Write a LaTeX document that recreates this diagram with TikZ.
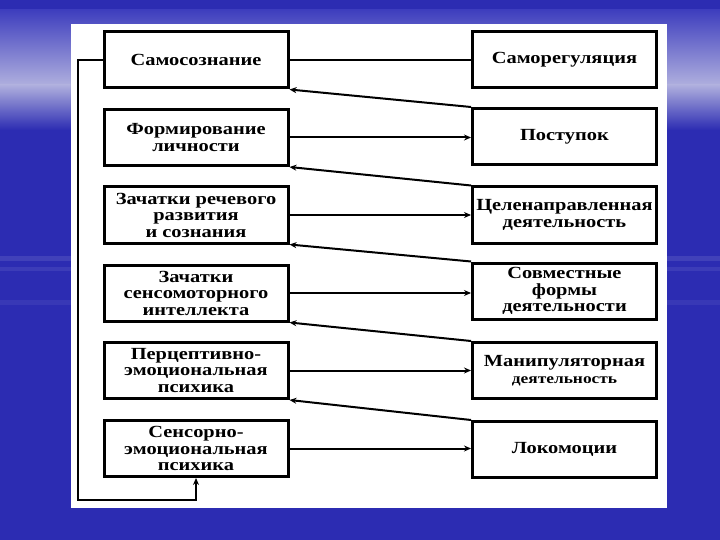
\documentclass[tikz,border=0pt]{standalone}
\usepackage{fontspec}
\setmainfont[FakeStretch=1.2]{Liberation Serif}
\usetikzlibrary{arrows.meta}
\definecolor{bgblue}{RGB}{44,44,178}
\definecolor{bglight}{RGB}{175,175,222}
\definecolor{bgmid}{RGB}{62,62,190}
\tikzset{
  x=1pt, y=-1pt,
  box/.style={draw=black, line width=3pt, fill=white, minimum width=184pt, minimum height=56pt,
    align=center, inner sep=2pt, font=\fontsize{17}{16.5}\selectfont\bfseries},
  conn/.style={draw=black, line width=2pt},
  arr/.style={conn, -{Stealth[length=7pt, width=6pt]}},
}
\begin{document}
\begin{tikzpicture}
% background
\useasboundingbox (0,0) rectangle (720,540);
\fill[bgblue] (0,0) rectangle (720,540);
\shade[top color=bgmid, bottom color=bglight] (0,10) rectangle (720,85);
\shade[top color=bglight, bottom color=bgblue] (0,85) rectangle (720,130);
\fill[white, opacity=0.10] (0,256) rectangle (720,261);
\fill[white, opacity=0.08] (0,267) rectangle (720,271);
\fill[white, opacity=0.06] (0,300) rectangle (720,305);
% panel
\fill[white] (71,24) rectangle (667,508);
% left column
\node[box] (L1) at (196,60) {Самосознание};
\node[box] (L2) at (196,137.5) {Формирование\\личности};
\node[box] (L3) at (196,215) {Зачатки речевого\\развития\\и сознания};
\node[box] (L4) at (196,293) {Зачатки\\сенсомоторного\\интеллекта};
\node[box] (L5) at (196,370.5) {Перцептивно-\\эмоциональная\\психика};
\node[box] (L6) at (196,448.5) {Сенсорно-\\эмоциональная\\психика};
% right column
\node[box] (R1) at (564.5,60) {Саморегуляция};
\node[box] (R2) at (564.5,136.5) {Поступок};
\node[box] (R3) at (564.5,215) {Целенаправленная\\деятельность};
\node[box] (R4) at (564.5,291) {Совместные\\формы\\деятельности};
\node[box] (R5) at (564.5,370.5) {Манипуляторная\\{\fontsize{14.5}{15}\selectfont деятельность}};
\node[box] (R6) at (564.5,449.5) {Локомоции};
% horizontal connectors
\draw[conn] (L1.east) -- (R1.west);
\draw[arr] (L2.east) -- (L2.east -| R2.west);
\draw[arr] (L3.east) -- (L3.east -| R3.west);
\draw[arr] (L4.east) -- (L4.east -| R4.west);
\draw[arr] (L5.east) -- (L5.east -| R5.west);
\draw[arr] (L6.east) -- (L6.east -| R6.west);
% diagonal connectors
\draw[arr] (R2.north west) -- (L1.south east);
\draw[arr] (R3.north west) -- (L2.south east);
\draw[arr] (R4.north west) -- (L3.south east);
\draw[arr] (R5.north west) -- (L4.south east);
\draw[arr] (R6.north west) -- (L5.south east);
% feedback loop
\coordinate (c1) at (78,60);
\coordinate (c2) at (78,500);
\coordinate (c3) at (196,500);
\draw[arr] (L1.west) -- (c1) -- (c2) -- (c3) -- (L6.south);
\end{tikzpicture}
\end{document}
